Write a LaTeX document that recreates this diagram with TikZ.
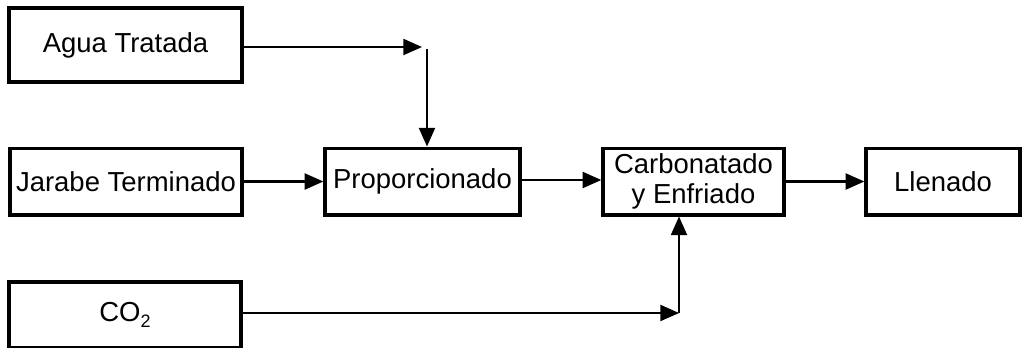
\documentclass[tikz,border=0pt]{standalone}
\usepackage{fontspec}
\setmainfont{Liberation Sans}
\usetikzlibrary{arrows.meta}

\tikzset{
  stage/.style={draw, line width=2.5pt, rectangle, inner sep=0pt,
    minimum height=50pt, align=center,
    font=\fontsize{20.6}{22.5}\selectfont},
  flow/.style={line width=1.6pt, -{Triangle[length=14pt,width=12pt]}}
}

\begin{document}
\begin{tikzpicture}[x=0.75pt, y=-0.75pt]
  \useasboundingbox (0,0) rectangle (1024,347);

  % process boxes
  \node[stage, minimum width=174.75pt, minimum height=55.5pt] (agua) at (125.5,45) {Agua Tratada};
  \node[stage, minimum width=174pt] (jarabe) at (126,181.5) {Jarabe Terminado};
  \node[stage, minimum width=146.25pt] (prop) at (422.5,181.5) {Proporcionado};
  \node[stage, minimum width=135.75pt] (carb) at (693.5,181.5) {Carbonatado\\y Enfriado};
  \node[stage, minimum width=115.5pt] (llen) at (943,181.5) {Llenado};
  \node[stage, minimum width=174pt, minimum height=49.5pt] (co2) at (125,315)
    {CO\raisebox{-0.45ex}{\fontsize{13.5}{13.5}\selectfont 2}};

  % treated water feed into proportioning
  \coordinate (aguaTip) at (422,47);
  \coordinate (aguaDrop) at (427,49);
  \draw[flow] (agua.east |- aguaTip) -- (aguaTip);
  \draw[flow] (aguaDrop) -- (aguaDrop |- prop.north);

  % main line
  \draw[flow] (jarabe.east) -- (prop.west);
  \draw[flow] (prop.east |- 0,180) -- (carb.west |- 0,180);
  \draw[flow] (carb.east) -- (llen.west);

  % CO2 feed into carbonation
  \coordinate (co2Tip) at (679,313);
  \draw[flow] (co2.east |- co2Tip) -- (co2Tip);
  \draw[flow] (co2Tip) -- (co2Tip |- carb.south);
\end{tikzpicture}
\end{document}
